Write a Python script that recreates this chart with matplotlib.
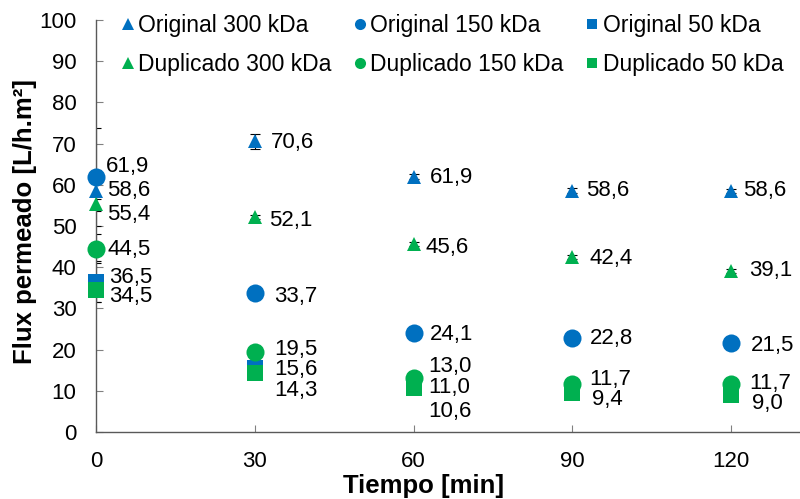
import matplotlib.pyplot as plt
import numpy as np
from matplotlib.lines import Line2D

plt.rcParams['font.family'] = ['Liberation Sans', 'DejaVu Sans']

# Data (Flux permeado vs tiempo)
tiempo = [0, 30, 60, 90, 120]

orig_300 = [58.6, 70.6, 61.9, 58.6, 58.6]
dup_300 = [55.4, 52.1, 45.6, 42.4, 39.1]
orig_150 = [61.9, 33.7, 24.1, 22.8, 21.5]
dup_150 = [44.5, 19.5, 13.0, 11.7, 11.7]
orig_50 = [36.5, 15.6, 11.0, 10.2, 9.8]   # last two hidden behind green markers
dup_50 = [34.5, 14.3, 10.6, 9.4, 9.0]

# Error estimates (only visible as small caps)
err_orig_300 = [5.0, 1.8, 0.6, 0.6, 0.5]
err_dup_300 = [1.2, 0.5, 0.5, 0.5, 0.5]
err_orig_150 = [11.9, 0.5, 0.5, 0.5, 0.5]
err_dup_150 = [3.5, 0.5, 0.5, 0.5, 0.5]
err_orig_50 = [5.0, 0.5, 0.5, 0.5, 0.5]
err_dup_50 = [3.0, 0.5, 0.5, 0.5, 0.5]

# which labels are shown (hidden ones overlap in the original)
show_orig_50 = [True, True, True, False, False]

BLUE = '#0070C0'
GREEN = '#00B050'

# label offsets in pixels (dx, dy) for each point
offsets = {
    'orig_300': [(11, 0), (16, -1), (16, -1), (14, 0), (12, 0)],
    'dup_300': [(11, -11), (14, -3), (12, -3), (17, -1), (18, 0)],
    'orig_150': [(10, 10), (19, -3), (16, -2), (17, 0), (20, -2)],
    'dup_150': [(11, -1), (19, 2), (15, 12), (17, 4), (18, 0)],
    'orig_50': [(13, 4), (19, -2), (15, -1), (0, 0), (0, 0)],
    'dup_50': [(13, -7), (19, -17), (15, -23), (20, -6), (21, -9)],
}

series = [
    ('orig_300', 'Original 300 kDa', orig_300, err_orig_300, BLUE, '^', 10.5),
    ('orig_150', 'Original 150 kDa', orig_150, err_orig_150, BLUE, 'o', 13),
    ('orig_50', 'Original 50 kDa', orig_50, err_orig_50, BLUE, 's', 11),
    ('dup_300', 'Duplicado 300 kDa', dup_300, err_dup_300, GREEN, '^', 10.5),
    ('dup_150', 'Duplicado 150 kDa', dup_150, err_dup_150, GREEN, 'o', 13),
    ('dup_50', 'Duplicado 50 kDa', dup_50, err_dup_50, GREEN, 's', 11),
]


def fmt(v):
    return f"{v:.1f}".replace('.', ',')


fig = plt.figure(figsize=(8, 4.99), dpi=100)
ax = fig.add_axes([96 / 800, 1 - 432 / 499, 1 - 96 / 800, 412 / 499])

for key, name, vals, errs, color, marker, ms in series:
    ax.errorbar(tiempo, vals, yerr=errs, fmt='none', ecolor='black',
                elinewidth=0.8, capsize=3.5, capthick=0.8, zorder=2)
    ax.plot(tiempo, vals, linestyle='none', marker=marker, markersize=ms,
            color=color, markeredgewidth=0, clip_on=False, zorder=3)
    for i, (x, v) in enumerate(zip(tiempo, vals)):
        if key == 'orig_50' and not show_orig_50[i]:
            continue
        dx, dy = offsets[key][i]
        ax.annotate(fmt(v), (x, v), xytext=(dx, dy), textcoords='offset pixels',
                    ha='left', va='center', fontsize=16, color='black', zorder=4,
                    annotation_clip=False)

ax.set_xlim(0, 133)
ax.set_ylim(0, 100)
ax.set_xticks(tiempo)
ax.set_yticks(np.arange(0, 101, 10))

for side in ['top', 'right']:
    ax.spines[side].set_visible(False)
for side in ['left', 'bottom']:
    ax.spines[side].set_color('#595959')
    ax.spines[side].set_linewidth(1.0)

ax.tick_params(axis='x', direction='in', length=5, color='#808080',
               labelsize=16, pad=14)
ax.tick_params(axis='y', direction='in', length=5, color='#808080',
               labelsize=16, pad=14)

ax.set_xlabel('Tiempo [min]', fontsize=18.5, fontweight='bold')
ax.set_ylabel('Flux permeado [L/h.m²]', fontsize=18.5, fontweight='bold')
ax.xaxis.set_label_coords((424 - 96) / 704, -(486 - 432) / 412)
ax.xaxis.label.set_va('center')
ax.yaxis.set_label_coords(-(96 - 25) / 704, (432 - 222) / 412)
ax.yaxis.label.set_va('center')

# legend with small markers, two rows
handles = []
for key, name, vals, errs, color, marker, ms in series:
    hs = {'^': 8, 'o': 8, 's': 7}[marker]
    handles.append(Line2D([], [], linestyle='none', marker=marker,
                          markersize=hs, color=color, markeredgewidth=0,
                          label=name))
order = [0, 3, 1, 4, 2, 5]
leg = ax.legend([handles[i] for i in order], [handles[i].get_label() for i in order],
                ncol=3, loc='upper left', bbox_to_anchor=(122 / 800, 1 - 14 / 499),
                bbox_transform=fig.transFigure, frameon=False, fontsize=16.5,
                handlelength=0.5, handletextpad=0.2, columnspacing=1.0,
                labelspacing=0.68, borderpad=0, borderaxespad=0)

fig.savefig('out.png', dpi=100)
